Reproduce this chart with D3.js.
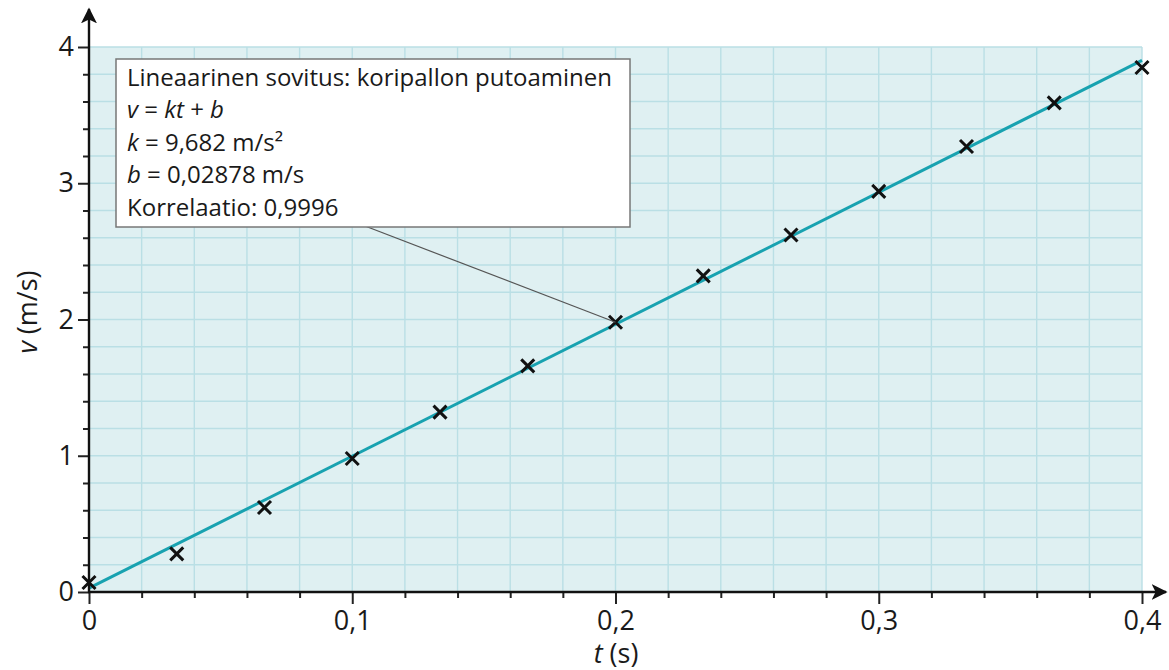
<!DOCTYPE html>
<html>
<head>
<meta charset="utf-8">
<script src="https://cdn.jsdelivr.net/npm/d3@7"></script>
<style>
  html, body { margin: 0; padding: 0; background: #fff; }
  svg { display: block; font-family: "Open Sans", "Noto Sans", sans-serif; }
</style>
</head>
<body>
<svg id="chart" width="1169" height="670"></svg>
<script>
// measured velocities of the falling basketball, 1/30 s apart
const times = [0, 1 / 30, 2 / 30, 3 / 30, 4 / 30, 5 / 30, 6 / 30, 7 / 30, 8 / 30, 9 / 30, 10 / 30, 11 / 30, 12 / 30];
const velocities = [0.07, 0.28, 0.62, 0.98, 1.32, 1.66, 1.98, 2.32, 2.62, 2.94, 3.27, 3.59, 3.85];

// linear fit v = k t + b
const fitK = 9.682;
const fitB = 0.02878;

const xTicks = [0, 0.1, 0.2, 0.3, 0.4];
const yTicks = [0, 1, 2, 3, 4];
const boxLines = [
  [{ text: "Lineaarinen sovitus: koripallon putoaminen" }],
  [{ text: "v", italic: true }, { text: " = " }, { text: "kt", italic: true }, { text: " + " }, { text: "b", italic: true }],
  [{ text: "k", italic: true }, { text: " = 9,682 m/s²" }],
  [{ text: "b", italic: true }, { text: " = 0,02878 m/s" }],
  [{ text: "Korrelaatio: 0,9996" }],
];

const svg = d3.select("#chart");
const x = d3.scaleLinear().domain([0, 0.4]).range([89, 1142]);
const y = d3.scaleLinear().domain([0, 4]).range([592, 47]);
const fmt = (d) => String(d).replace(".", ",");

// plot background
svg.append("rect")
  .attr("x", x(0)).attr("y", y(4))
  .attr("width", x(0.4) - x(0)).attr("height", y(0) - y(4))
  .attr("fill", "#dff0f2");

// grid
const grid = svg.append("g").attr("stroke", "#badfe5").attr("stroke-width", 1.4);
d3.range(1, 21).map((i) => i * 0.02).forEach((t) => {
  grid.append("line").attr("x1", x(t)).attr("x2", x(t)).attr("y1", y(0)).attr("y2", y(4));
});
d3.range(1, 21).map((i) => i * 0.2).forEach((v) => {
  grid.append("line").attr("x1", x(0)).attr("x2", x(0.4)).attr("y1", y(v)).attr("y2", y(v));
});

// fit line
svg.append("line")
  .attr("x1", x(0)).attr("y1", y(fitB))
  .attr("x2", x(0.4)).attr("y2", y(fitK * 0.4 + fitB))
  .attr("stroke", "#18a2b0").attr("stroke-width", 3);

// data markers
const cross = 6.5;
svg.append("g")
  .selectAll("path")
  .data(times.map((t, i) => [t, velocities[i]]))
  .join("path")
  .attr("d", ([t, v]) => {
    const cx = x(t), cy = y(v);
    return `M${cx - cross},${cy - cross}L${cx + cross},${cy + cross}M${cx - cross},${cy + cross}L${cx + cross},${cy - cross}`;
  })
  .attr("stroke", "#111").attr("stroke-width", 3).attr("fill", "none");

// axes
const xAxis = svg.append("g").attr("transform", `translate(0,${y(0)})`)
  .call(d3.axisBottom(x).tickValues(xTicks).tickFormat(fmt).tickSize(12).tickPadding(12));
const xMinor = svg.append("g").attr("transform", `translate(0,${y(0)})`)
  .call(d3.axisBottom(x).tickValues(d3.range(1, 20).map((i) => i * 0.02).filter((_, i) => (i + 1) % 5 !== 0)).tickSize(6).tickFormat(""));
const yAxis = svg.append("g").attr("transform", `translate(${x(0)},0)`)
  .call(d3.axisLeft(y).tickValues(yTicks).tickFormat(fmt).tickSize(11).tickPadding(4));
const yMinor = svg.append("g").attr("transform", `translate(${x(0)},0)`)
  .call(d3.axisLeft(y).tickValues(d3.range(1, 20).map((i) => i * 0.2).filter((_, i) => (i + 1) % 5 !== 0)).tickSize(6).tickFormat(""));

[xAxis, xMinor, yAxis, yMinor].forEach((g) => {
  g.select(".domain").remove();
  g.selectAll(".tick line").attr("stroke", "#222").attr("stroke-width", 2);
  g.selectAll("text").attr("fill", "#1a1a1a").attr("font-size", 27).attr("font-family", "Open Sans, sans-serif");
});
xAxis.selectAll("text").attr("dy", "0.5em");
yAxis.selectAll("text").attr("dy", "0.32em");

// axis lines with arrows
const defs = svg.append("defs");
defs.append("marker").attr("id", "arrow").attr("viewBox", "0 0 10 10")
  .attr("refX", 9).attr("refY", 5).attr("markerWidth", 16).attr("markerHeight", 16)
  .attr("markerUnits", "userSpaceOnUse").attr("orient", "auto")
  .append("path").attr("d", "M0,0L10,5L0,10L2.5,5Z").attr("fill", "#111");

svg.append("line").attr("x1", x(0) - 1).attr("x2", 1166).attr("y1", y(0)).attr("y2", y(0))
  .attr("stroke", "#111").attr("stroke-width", 2.4).attr("marker-end", "url(#arrow)");
svg.append("line").attr("x1", x(0)).attr("x2", x(0)).attr("y1", y(0) + 1).attr("y2", 9)
  .attr("stroke", "#111").attr("stroke-width", 2.4).attr("marker-end", "url(#arrow)");

// axis titles
const xTitle = svg.append("text").attr("x", 616).attr("y", 663).attr("text-anchor", "middle")
  .attr("font-size", 27).attr("fill", "#1a1a1a");
xTitle.append("tspan").attr("font-style", "italic").text("t");
xTitle.append("tspan").text(" (s)");

const yTitle = svg.append("text").attr("transform", "translate(37,312) rotate(-90)")
  .attr("text-anchor", "middle").attr("font-size", 27).attr("fill", "#1a1a1a");
yTitle.append("tspan").attr("font-style", "italic").text("v");
yTitle.append("tspan").text(" (m/s)");

// annotation: leader line and box
svg.append("line").attr("x1", 365).attr("y1", 226).attr("x2", x(0.2)).attr("y2", y(velocities[6]))
  .attr("stroke", "#555").attr("stroke-width", 1.2);
svg.append("rect").attr("x", 116).attr("y", 59).attr("width", 514).attr("height", 168)
  .attr("fill", "#fff").attr("stroke", "#777").attr("stroke-width", 1.5);

const box = svg.append("g");
boxLines.forEach((parts, i) => {
  const t = box.append("text").attr("x", 127).attr("y", 86 + i * 32.4)
    .attr("font-size", 24).attr("fill", "#1a1a1a");
  parts.forEach((p) => {
    t.append("tspan").attr("font-style", p.italic ? "italic" : null).text(p.text);
  });
});
</script>
</body>
</html>
